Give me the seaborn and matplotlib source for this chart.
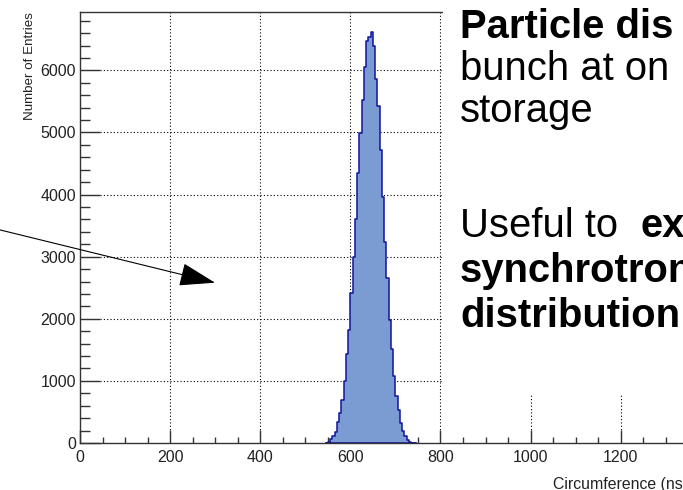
"""Circumference histogram of one bunch, redrawn ROOT-style with a slide text box."""

import matplotlib

matplotlib.use("Agg")
import matplotlib.pyplot as plt  # noqa: E402
import numpy as np  # noqa: E402
import pandas as pd  # noqa: E402
import seaborn as sns  # noqa: E402
from matplotlib.patches import FancyArrowPatch, Rectangle  # noqa: E402
from matplotlib.ticker import MultipleLocator  # noqa: E402

# --- data ----------------------------------------------------------------
bin_start = 545  # ns
bin_width = 5  # ns
entries = [
    5, 21, 64, 113, 182, 343, 478, 692, 998, 1428,
    1819, 2410, 3000, 3602, 4355, 4999, 5522, 6060, 6465, 6530,
    6610,
    6392, 5860, 5426, 4717, 3961, 3236, 2657, 1980, 1513,
    1079, 757, 531, 322, 193, 113, 56, 21, 8, 3,
]
x_ticks = [0, 200, 400, 600, 800, 1000, 1200]
y_ticks = [0, 1000, 2000, 3000, 4000, 5000, 6000]
x_label = "Circumference (ns)"
y_label = "Number of Entries"

# slide text lines: (text, bold)
slide_top = [("Particle dis", True), ("bunch at on", False), ("storage", False)]
slide_bottom_lead = "Useful to"
slide_bottom_bold = ["ex", "synchrotron", "distribution"]

FILL = "#7b9bd3"
EDGE = "#12129c"
W, H = 683, 490
SLIDE_FS = 28.8

sns.set_theme(style="white")
plt.rcParams["font.family"] = ["Liberation Sans", "DejaVu Sans"]

fig = plt.figure(figsize=(W / 100, H / 100), dpi=100)
# axes run past the right edge of the picture, like the cropped slide
ax = fig.add_axes([80 / W, 47 / H, 616 / W, 431 / H])

n_bins = len(entries)
df = pd.DataFrame(
    {
        "circumference": bin_start + bin_width * (np.arange(n_bins) + 0.5),
        "entries": entries,
    }
)
sns.histplot(
    data=df,
    x="circumference",
    weights="entries",
    binwidth=bin_width,
    binrange=(bin_start, bin_start + bin_width * n_bins),
    element="step",
    fill=True,
    color=FILL,
    edgecolor=EDGE,
    linewidth=1.1,
    alpha=1,
    ax=ax,
    zorder=2,
)

ax.set_xlim(0, 1367)
ax.set_ylim(0, 6940)
ax.set_xticks(x_ticks)
ax.set_yticks(y_ticks)
ax.xaxis.set_minor_locator(MultipleLocator(50))
ax.yaxis.set_minor_locator(MultipleLocator(200))
ax.grid(False)
# dotted grid behind the histogram, ticks stay on top of it
for xv in x_ticks[1:]:
    ax.axvline(xv, color="black", ls=(0, (1, 2)), lw=0.8, zorder=0.5)
for yv in y_ticks[1:]:
    ax.axhline(yv, color="black", ls=(0, (1, 2)), lw=0.8, zorder=0.5)

ax.tick_params(axis="both", which="both", direction="in", bottom=True, left=True,
               top=False, right=False, colors="#333333", labelcolor="#222222",
               labelsize=11.5, width=1.0)
ax.tick_params(axis="y", which="major", length=14.4, pad=3)
ax.tick_params(axis="y", which="minor", length=7.2)
ax.tick_params(axis="x", which="major", length=9.4, pad=5)
ax.tick_params(axis="x", which="minor", length=4.3)
for sp in ax.spines.values():
    sp.set_color("#333333")
    sp.set_linewidth(1.0)

ax.set_ylabel(y_label, fontsize=9.6, loc="top", color="#222222")
ax.yaxis.set_label_coords(-0.071, 1.0)
ax.set_xlabel(x_label, fontsize=11.4, loc="right", color="#222222")
ax.xaxis.set_label_coords(0.987, -0.078)

# slide text box covering the upper right of the plot
fig.add_artist(Rectangle((442.5 / W, 1 - 395 / H), 1, 1, transform=fig.transFigure,
                         facecolor="white", edgecolor="none", zorder=5))

for (txt, bold), base in zip(slide_top, [38.3, 80, 121.7]):
    fig.text(460 / W, 1 - base / H, txt, fontsize=SLIDE_FS, va="baseline", zorder=6,
             fontweight="bold" if bold else "normal", color="black")

fig.text(460 / W, 1 - 236.7 / H, slide_bottom_lead, fontsize=SLIDE_FS, va="baseline",
         zorder=6, color="black")
fig.text(640 / W, 1 - 236.7 / H, slide_bottom_bold[0], fontsize=SLIDE_FS, va="baseline",
         zorder=6, fontweight="bold", color="black")
for txt, base in zip(slide_bottom_bold[1:], [281.7, 326.7]):
    fig.text(460 / W, 1 - base / H, txt, fontsize=SLIDE_FS, va="baseline", zorder=6,
             fontweight="bold", color="black")

arrow = FancyArrowPatch(
    posA=(-20 / W, 1 - 225 / H),
    posB=(215 / W, 1 - 282.7 / H),
    transform=fig.transFigure,
    arrowstyle="-|>,head_length=2.28,head_width=0.74",
    mutation_scale=10,
    shrinkA=0,
    shrinkB=0,
    color="black",
    lw=0.8,
    zorder=7,
)
fig.add_artist(arrow)

fig.savefig("out.png", dpi=100)
